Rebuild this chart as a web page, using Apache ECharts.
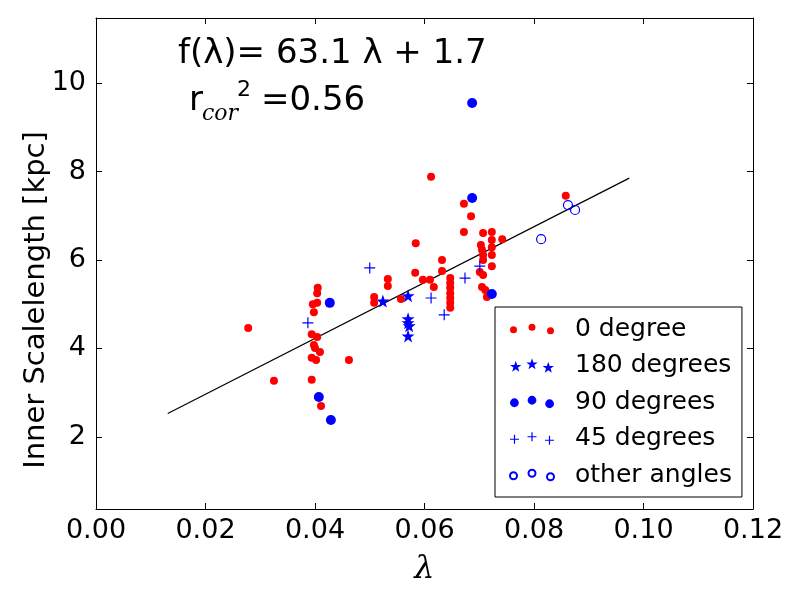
<!DOCTYPE html>
<html>
<head>
<meta charset="utf-8">
<script src="https://cdn.jsdelivr.net/npm/echarts@6/dist/echarts.min.js"></script>
<style>
  html, body { margin: 0; padding: 0; background: #fff; }
  #chart { width: 800px; height: 600px; }
</style>
</head>
<body>
<div id="chart"></div>
<script>
// values: [lambda, inner scalelength]
var deg0 = [
  [0.0278, 4.46], [0.0325, 3.27], [0.0405, 5.37], [0.0404, 5.25], [0.0396, 5.00],
  [0.0404, 5.03], [0.0398, 4.82], [0.0394, 4.32], [0.0404, 4.26], [0.0398, 4.08],
  [0.0400, 4.01], [0.0409, 3.92], [0.0394, 3.79], [0.0402, 3.74], [0.0462, 3.74],
  [0.0394, 3.29], [0.0411, 2.70],
  [0.0533, 5.57], [0.0533, 5.41], [0.0508, 5.16], [0.0508, 5.03], [0.0557, 5.12],
  [0.0583, 5.71], [0.0584, 6.38], [0.0597, 5.55], [0.0610, 5.55], [0.0617, 5.39],
  [0.0612, 7.88], [0.0632, 6.00], [0.0632, 5.75],
  [0.0647, 5.59], [0.0647, 5.48], [0.0647, 5.37], [0.0647, 5.25], [0.0647, 5.14],
  [0.0647, 5.03], [0.0647, 4.92],
  [0.0672, 7.27], [0.0685, 6.99], [0.0672, 6.63], [0.0707, 6.61], [0.0723, 6.63],
  [0.0723, 6.45], [0.0742, 6.47], [0.0703, 6.34], [0.0705, 6.23], [0.0723, 6.29],
  [0.0707, 6.11], [0.0723, 6.11], [0.0707, 6.00], [0.0723, 5.86], [0.0701, 5.73],
  [0.0707, 5.66], [0.0705, 5.39], [0.0711, 5.32], [0.0714, 5.16], [0.0858, 7.45]
];
var deg180 = [[0.0524, 5.07], [0.0570, 5.19], [0.0570, 4.67], [0.0570, 4.58], [0.0572, 4.51], [0.0570, 4.28]];
var deg90 = [[0.0427, 5.03], [0.0407, 2.90], [0.0429, 2.38], [0.0687, 9.55], [0.0687, 7.40], [0.0723, 5.23]];
var deg45 = [[0.0387, 4.58], [0.0500, 5.82], [0.0612, 5.14], [0.0636, 4.76], [0.0674, 5.59], [0.0701, 5.86]];
var otherAngles = [[0.0813, 6.47], [0.0862, 7.24], [0.0875, 7.13]];
var fitLine = [[0.0131, 2.53], [0.0974, 7.85]];

var yTicks = [2, 4, 6, 8, 10];

var FONT = 'DejaVu Sans';
var RED = '#ff0000';
var BLUE = '#0000ff';

// marker shapes
var STAR_PTS = [[0,-10],[2.35,-3.24],[9.51,-3.09],[3.8,1.24],[5.88,8.09],[0,4],[-5.88,8.09],[-3.8,1.24],[-9.51,-3.09],[-2.35,-3.24]];
var STAR = 'path://' + STAR_PTS.map(function (p, i) { return (i ? 'L' : 'M') + p[0] + ',' + p[1]; }).join('') + 'Z';
var PLUS = 'path://M-0.11,-1L0.11,-1L0.11,-0.11L1,-0.11L1,0.11L0.11,0.11L0.11,1L-0.11,1L-0.11,0.11L-1,0.11L-1,-0.11L-0.11,-0.11Z';

// legend icons: three markers over a fixed 44px width, the middle one a bit higher
var LEG_W = 44;
var LEG_DY = [2.5, 0, 3.5];
function legendCenters(a) {
  return [[a, a + LEG_DY[0]], [LEG_W / 2, a + LEG_DY[1]], [LEG_W - a, a + LEG_DY[2]]];
}
function dots(r) {
  return 'path://' + legendCenters(r).map(function (c) {
    return 'M' + (c[0] - r) + ',' + c[1] + 'a' + r + ',' + r + ' 0 1,0 ' + (2 * r) + ',0a' + r + ',' + r + ' 0 1,0 ' + (-2 * r) + ',0Z';
  }).join('');
}
function stars(k) {
  return 'path://' + legendCenters(9.51 * k).map(function (c) {
    return STAR_PTS.map(function (p, j) {
      return (j ? 'L' : 'M') + (c[0] + p[0] * k).toFixed(2) + ',' + (c[1] + p[1] * k).toFixed(2);
    }).join('') + 'Z';
  }).join('');
}
function pluses(h, t) {
  return 'path://' + legendCenters(h).map(function (c) {
    var x = c[0], y = c[1];
    return 'M' + (x - t) + ',' + (y - h) + 'L' + (x + t) + ',' + (y - h) + 'L' + (x + t) + ',' + (y - t) +
      'L' + (x + h) + ',' + (y - t) + 'L' + (x + h) + ',' + (y + t) + 'L' + (x + t) + ',' + (y + t) +
      'L' + (x + t) + ',' + (y + h) + 'L' + (x - t) + ',' + (y + h) + 'L' + (x - t) + ',' + (y + t) +
      'L' + (x - h) + ',' + (y + t) + 'L' + (x - h) + ',' + (y - t) + 'L' + (x - t) + ',' + (y - t) + 'Z';
  }).join('');
}

var chart = echarts.init(document.getElementById('chart'));

var tickStyle = { inside: true, length: 6, lineStyle: { color: '#000', width: 1 } };
var lineStyle = { show: true, onZero: false, lineStyle: { color: '#000', width: 1 } };

var option = {
  animation: false,
  backgroundColor: '#fff',
  grid: { left: 96, right: 47, top: 18, bottom: 91 },
  xAxis: [{
    type: 'value', min: 0, max: 0.12, interval: 0.02, position: 'bottom',
    axisLine: lineStyle, axisTick: tickStyle, splitLine: { show: false },
    axisLabel: {
      color: '#000', fontFamily: FONT, fontSize: 27, margin: 8,
      formatter: function (v) { return v.toFixed(2); }
    },
    name: 'λ', nameLocation: 'middle', nameGap: 45,
    nameTextStyle: { color: '#000', fontFamily: 'DejaVu Serif', fontStyle: 'italic', fontSize: 32 }
  }, {
    type: 'value', min: 0, max: 0.12, interval: 0.02, position: 'top',
    axisLine: lineStyle, axisTick: tickStyle, splitLine: { show: false },
    axisLabel: { show: false }
  }],
  yAxis: [{
    type: 'value', min: 0.37, max: 11.47, position: 'left',
    axisLine: lineStyle, splitLine: { show: false },
    axisTick: Object.assign({ customValues: yTicks }, tickStyle),
    axisLabel: { customValues: yTicks, color: '#000', fontFamily: FONT, fontSize: 27, margin: 10 }
  }, {
    type: 'value', min: 0.37, max: 11.47, position: 'right',
    axisLine: lineStyle, splitLine: { show: false },
    axisTick: Object.assign({ customValues: yTicks }, tickStyle),
    axisLabel: { show: false }
  }],
  legend: {
    orient: 'vertical', left: 495, top: 307,
    padding: [9, 10, 9, 14], itemGap: 10.5,
    itemWidth: LEG_W, itemHeight: 20,
    backgroundColor: '#fff', borderColor: '#000', borderWidth: 1,
    textStyle: { color: '#000', fontFamily: FONT, fontSize: 25, lineHeight: 26, padding: [0, 0, 0, 16] },
    data: [
      { name: '0 degree', icon: dots(3.5) },
      { name: '180 degrees', icon: stars(0.6) },
      { name: '90 degrees', icon: dots(4.4) },
      { name: '45 degrees', icon: pluses(4.5, 0.6) },
      { name: 'other angles', icon: dots(3.5) }
    ]
  },
  graphic: [
    { type: 'text', x: 36, y: 300, rotation: Math.PI / 2,
      style: { text: 'Inner Scalelength [kpc]', fill: '#000', font: '29px "DejaVu Sans"', textAlign: 'center', textVerticalAlign: 'middle' } },
    { type: 'text', left: 178, top: 37, style: { text: 'f(λ)= 63.1 λ + 1.7', fill: '#000', font: '34px "DejaVu Sans"' } },
    { type: 'text', left: 189, top: 84, style: { text: 'r', fill: '#000', font: '34px "DejaVu Sans"' } },
    { type: 'text', left: 202, top: 103, style: { text: 'cor', fill: '#000', font: 'italic 22px "DejaVu Serif"' } },
    { type: 'text', left: 237, top: 79, style: { text: '2', fill: '#000', font: '22px "DejaVu Sans"' } },
    { type: 'text', left: 261, top: 84, style: { text: '=0.56', fill: '#000', font: '34px "DejaVu Sans"' } }
  ],
  series: [{
    name: 'fit', type: 'line', data: fitLine, symbol: 'none', silent: true,
    lineStyle: { color: '#000', width: 1.2 }, z: 1
  }, {
    name: '0 degree', type: 'scatter', data: deg0, symbol: 'circle', symbolSize: 8,
    itemStyle: { color: RED, opacity: 1 }
  }, {
    name: '180 degrees', type: 'scatter', data: deg180, symbol: STAR, symbolSize: 13,
    itemStyle: { color: BLUE, opacity: 1 }
  }, {
    name: '90 degrees', type: 'scatter', data: deg90, symbol: 'circle', symbolSize: 10,
    itemStyle: { color: BLUE, opacity: 1 }
  }, {
    name: '45 degrees', type: 'scatter', data: deg45, symbol: PLUS, symbolSize: 11,
    itemStyle: { color: BLUE, opacity: 1 }
  }, {
    name: 'other angles', type: 'scatter', data: otherAngles, symbol: 'circle', symbolSize: 9,
    itemStyle: { color: 'rgba(0,0,0,0)', borderColor: BLUE, borderWidth: 1.2, opacity: 1 }
  }]
};

chart.setOption(option);
</script>
</body>
</html>
